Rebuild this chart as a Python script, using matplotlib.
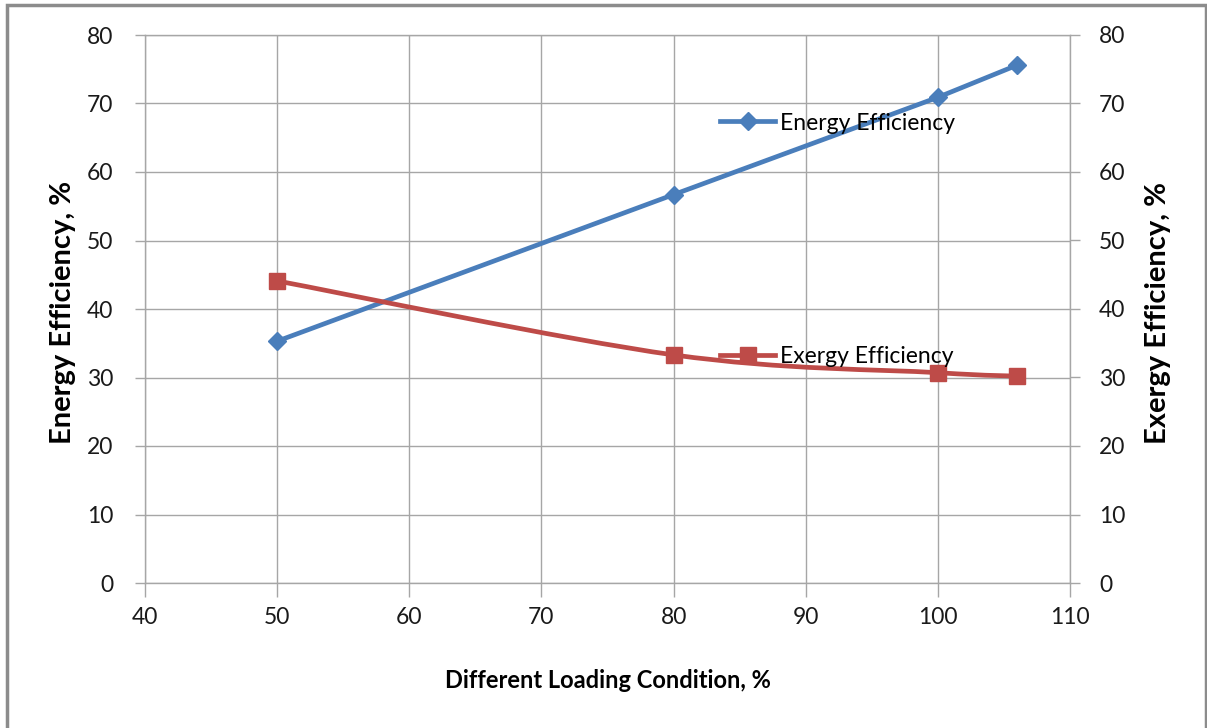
import matplotlib.pyplot as plt
from matplotlib.lines import Line2D
from matplotlib.patches import PathPatch, Rectangle
from matplotlib.path import Path

loading = [50, 80, 100, 106]
energy_eff = [35.3, 56.7, 70.9, 75.6]
exergy_eff = [44.1, 33.3, 30.7, 30.2]

x_ticks = [40, 50, 60, 70, 80, 90, 100, 110]
y_ticks = [0, 10, 20, 30, 40, 50, 60, 70, 80]

blue = '#4A7EBB'
red = '#BE4B48'
grid_col = '#A6A6A6'

plt.rcParams['font.family'] = ['Lato', 'DejaVu Sans']


def smooth_path(xs, ys):
    # Catmull-Rom style bezier through the points (like a spreadsheet "smoothed line")
    pts = list(zip(xs, ys))
    n = len(pts)
    verts = [pts[0]]
    codes = [Path.MOVETO]
    for i in range(n - 1):
        p0 = pts[i - 1] if i > 0 else pts[i]
        p1 = pts[i]
        p2 = pts[i + 1]
        p3 = pts[i + 2] if i + 2 < n else p2
        c1 = (p1[0] + (p2[0] - p0[0]) / 6, p1[1] + (p2[1] - p0[1]) / 6)
        c2 = (p2[0] - (p3[0] - p1[0]) / 6, p2[1] - (p3[1] - p1[1]) / 6)
        verts += [c1, c2, p2]
        codes += [Path.CURVE4] * 3
    return Path(verts, codes)


W, H = 1207, 728
fig = plt.figure(figsize=(W / 100, H / 100), dpi=100)
ax = fig.add_axes([145 / W, 1 - 583 / H, (1070 - 145) / W, (583 - 35) / H])

ax.set_xlim(40, 110)
ax.set_ylim(0, 80)
ax.set_xticks(x_ticks)
ax.set_yticks(y_ticks)
ax.grid(True, color=grid_col, lw=1.0)
ax.set_axisbelow(True)
for s in ax.spines.values():
    s.set_color(grid_col)
    s.set_linewidth(1.0)
ax.tick_params(axis='both', length=7, width=1, color=grid_col,
               labelsize=16.5, labelcolor='#1a1a1a')
ax.tick_params(axis='y', pad=16)
ax.tick_params(axis='x', pad=7, length=10)

ax2 = ax.twinx()
ax2.set_ylim(0, 80)
ax2.set_yticks(y_ticks)
ax2.tick_params(axis='y', length=7, width=1, color=grid_col,
                labelsize=16.5, labelcolor='#1a1a1a', pad=14)
for s in ax2.spines.values():
    s.set_visible(False)

# energy efficiency, straight segments
ax.plot(loading, energy_eff, color=blue, lw=3.4, marker='D', ms=9,
        solid_capstyle='round', zorder=3)

# exergy efficiency, smoothed curve
ax.add_patch(PathPatch(smooth_path(loading, exergy_eff), fill=False,
                       edgecolor=red, lw=3.4, capstyle='round', zorder=3))
ax.plot(loading, exergy_eff, ls='none', color=red, marker='s', ms=12, zorder=4)

leg_kw = dict(loc='center left', frameon=False, fontsize=16.5, borderpad=0,
              borderaxespad=0, handlelength=2.4, handletextpad=0.2)
h1 = Line2D([], [], color=blue, lw=3.4, marker='D', ms=9)
h2 = Line2D([], [], color=red, lw=3.4, marker='s', ms=12)
leg1 = ax2.legend([h1], ['Energy Efficiency'],
                  bbox_to_anchor=((720 - 145) / 925, (583 - 123) / 548), **leg_kw)
ax2.add_artist(leg1)
leg2 = ax2.legend([h2], ['Exergy Efficiency'],
                  bbox_to_anchor=((720 - 145) / 925, (583 - 357) / 548), **leg_kw)

fig.text(63 / W, 1 - 312 / H, 'Energy Efficiency, %', rotation=90,
         ha='center', va='center', fontsize=21, fontweight='bold')
fig.text(1158 / W, 1 - 313 / H, 'Exergy Efficiency, %', rotation=90,
         ha='center', va='center', fontsize=21, fontweight='bold')
fig.text(608 / W, 1 - 681 / H, 'Different Loading Condition, %',
         ha='center', va='center', fontsize=17, fontweight='bold')

# outer chart border
fig.patches.append(Rectangle((7 / W, -0.05), (1206 - 7) / W, 1.05 - 5 / H,
                             transform=fig.transFigure, fill=False,
                             edgecolor='#8C8C8C', lw=2.5))

fig.savefig('out.png', dpi=100)
